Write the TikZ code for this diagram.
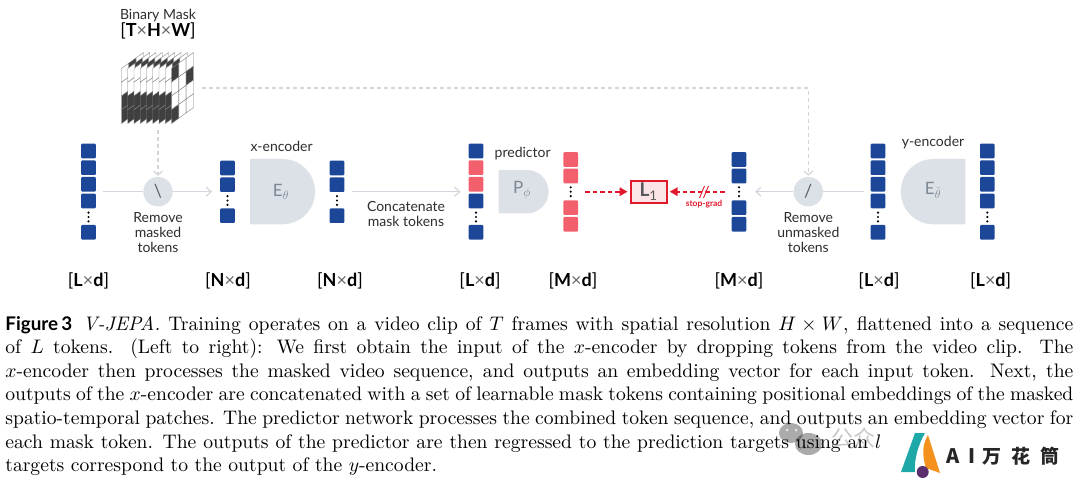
\documentclass[tikz,border=0pt]{standalone}
\usepackage{fontspec}
\setsansfont{Lato}
\newfontfamily\cjkfont{Noto Sans CJK SC}
\usetikzlibrary{arrows.meta}
\definecolor{tokblue}{HTML}{1C4798}
\definecolor{tokpink}{HTML}{F2606E}
\definecolor{lossred}{HTML}{E2192C}
\definecolor{lossfill}{HTML}{FAE4E6}
\definecolor{shapegrey}{HTML}{DCE0E7}
\definecolor{linegrey}{HTML}{D3D7DD}
\definecolor{dashgrey}{HTML}{D2D5D9}
\definecolor{symgrey}{HTML}{7D8794}
\definecolor{cellgrey}{HTML}{3F3F3F}
\definecolor{inkgrey}{HTML}{2E2E2E}
\definecolor{logoteal}{HTML}{1FA8A8}
\definecolor{logoorange}{HTML}{F5921E}
\definecolor{logopurple}{HTML}{5B2E6E}
\tikzset{
  x=1pt,y=-1pt,
  tokbase/.style={rectangle,rounded corners=1pt,minimum width=14.6pt,minimum height=14.6pt,inner sep=0pt},
  tokenblue/.style={tokbase,fill=tokblue},
  tokenpink/.style={tokbase,fill=tokpink},
  colanchor/.style={rectangle,minimum width=14.6pt,minimum height=4pt,inner sep=0pt},
  lab/.style={font=\sffamily\fontsize{14}{15}\selectfont,text=inkgrey,inner sep=0pt,align=center},
  dimlab/.style={font=\sffamily\fontsize{18}{18}\selectfont,text=black,inner sep=0pt},
  opcircle/.style={circle,fill=shapegrey,minimum size=29.4pt,inner sep=0pt,text=symgrey!70!black,font=\sffamily\fontsize{18}{18}\selectfont},
  netshape/.style={fill=shapegrey,draw=none},
  netsym/.style={text=symgrey,inner sep=0pt,font=\sffamily\fontsize{17}{17}\selectfont},
  flow/.style={draw=linegrey,line width=1.2pt},
  flowarrow/.style={flow,-{Straight Barb[length=5pt,width=9pt,line width=1.2pt]}},
  maskdash/.style={draw=dashgrey,line width=1.3pt,dash pattern=on 4pt off 3pt},
  maskarrow/.style={maskdash,-{Straight Barb[length=4pt,width=9pt,line width=1.2pt]}},
  lossarrow/.style={draw=lossred,line width=2pt,dash pattern=on 4.5pt off 3pt,-{Triangle[length=8pt,width=8.5pt]}},
  lossbox/.style={draw=lossred,line width=2.2pt,fill=lossfill,minimum width=36pt,minimum height=22pt,inner sep=0pt,text=black!65,font=\sffamily\fontsize{19}{19}\selectfont},
  dotmark/.style={circle,fill=black,inner sep=0pt,minimum size=2.4pt},
  slicecell/.style={draw=black!50,line width=0.4pt,fill=white},
  slicedark/.style={draw=black!50,line width=0.4pt,fill=cellgrey},
}
\newcommand{\vdotsmark}[2]{%
  \node[dotmark] at (#1,#2-4.4) {};\node[dotmark] at (#1,#2) {};\node[dotmark] at (#1,#2+4.4) {};}
\newcommand{\dimtext}[2]{\textbf{#1}\textcolor{black!60}{×}\textbf{#2}}
\begin{document}
\begin{tikzpicture}
\useasboundingbox (0,0) rectangle (1080,484);
\fill[white] (0,0) rectangle (1080,484);

% ---- binary mask: nine slices, drawn left to right
\foreach \s in {0,...,8}{
  \pgfmathsetmacro{\xo}{121.5+\s*6.25}
  \foreach \c in {0,1,2}{
    \foreach \r in {0,1,2,3}{
      \pgfmathtruncatemacro{\dark}{ifthenelse(\s<8,
         ifthenelse((\c==0 && \r>=2) || (\c==1 && \r==0),1,0),
         ifthenelse((\c==0 && (\r==0 || \r==3)) || (\c==2 && \r==1),1,0))}
      \ifnum\dark=1\def\cs{slicedark}\else\def\cs{slicecell}\fi
      \draw[\cs] (\xo+\c*7.33,68.5-\c*5.33+\r*13.75)
        -- ++(7.33,-5.33) -- ++(0,13.75) -- ++(-7.33,5.33) -- cycle;
    }
  }
}
\node[lab] (masktitle) at (158,15.5) {Binary Mask};
\node[dimlab] (masksize) at (158,31) {[\dimtext{T}{H}\textcolor{black!60}{×}\textbf{W}]};
\coordinate (maskbottom) at (158,130);
\coordinate (maskright) at (202,88);
\coordinate (maskcorner) at (808.3,88);

% ---- network shapes
\path[netshape] (250,159) -- (282.4,159) arc[start angle=-90,end angle=90,radius=32.65] -- (250,224.3) -- cycle;
\node[netsym] (Ex) at (281,192) {E$_{\theta}$};
\node[lab] (xenc) at (281.7,146) {x-encoder};
\path[netshape] (498.7,170) -- (527,170) arc[start angle=-90,end angle=90,radius=21.65] -- (498.7,213.3) -- cycle;
\node[netsym] (Pp) at (522,190) {P$_{\phi}$};
\node[lab] (predl) at (522.7,153.3) {predictor};
\path[netshape] (965.3,159) -- (933.4,159) arc[start angle=-90,end angle=-270,radius=32.65] -- (965.3,224.3) -- cycle;
\node[netsym] (Ey) at (933,190) {E$_{\bar\theta}$};
\node[lab] (yenc) at (933,143) {y-encoder};

% ---- token columns
\node[colanchor] (colA) at (88.5,191.7) {};
\node[tokenblue] (a1) at (88.5,151) {};
\node[tokenblue] (a2) at (88.5,167.7) {};
\node[tokenblue] (a3) at (88.5,184.3) {};
\node[tokenblue] (a4) at (88.5,201) {};
\vdotsmark{88.5}{217}
\node[tokenblue] (a5) at (88.5,232.3) {};

\node[colanchor] (colB) at (227.5,191.7) {};
\node[tokenblue] (b1) at (227.5,168) {};
\node[tokenblue] (b2) at (227.5,184.7) {};
\vdotsmark{227.5}{200.5}
\node[tokenblue] (b3) at (227.5,215.7) {};

\node[colanchor] (colC) at (337,191.7) {};
\node[tokenblue] (c1) at (337,168) {};
\node[tokenblue] (c2) at (337,184.7) {};
\vdotsmark{337}{200.5}
\node[tokenblue] (c3) at (337,215.7) {};

\node[colanchor] (colD) at (476,191.7) {};
\node[tokenblue] (d1) at (476,151) {};
\node[tokenpink] (d2) at (476,167.7) {};
\node[tokenpink] (d3) at (476,184.3) {};
\node[tokenblue] (d4) at (476,201) {};
\vdotsmark{476}{217}
\node[tokenblue] (d5) at (476,232.3) {};

\node[colanchor] (colE) at (570.7,191.7) {};
\node[tokenpink] (e1) at (570.7,159.5) {};
\node[tokenpink] (e2) at (570.7,176) {};
\vdotsmark{570.7}{191.7}
\node[tokenpink] (e3) at (570.7,207.7) {};
\node[tokenpink] (e4) at (570.7,224.3) {};

\node[colanchor] (colF) at (739,191.7) {};
\node[tokenblue] (f1) at (739,159.5) {};
\node[tokenblue] (f2) at (739,176) {};
\vdotsmark{739}{191.7}
\node[tokenblue] (f3) at (739,207.7) {};
\node[tokenblue] (f4) at (739,224.3) {};

\node[colanchor] (colG) at (878,191.7) {};
\node[tokenblue] (g1) at (878,151) {};
\node[tokenblue] (g2) at (878,167.7) {};
\node[tokenblue] (g3) at (878,184.3) {};
\node[tokenblue] (g4) at (878,201) {};
\vdotsmark{878}{217}
\node[tokenblue] (g5) at (878,232.3) {};

\node[colanchor] (colH) at (987.3,191.7) {};
\node[tokenblue] (h1) at (987.3,151) {};
\node[tokenblue] (h2) at (987.3,167.7) {};
\node[tokenblue] (h3) at (987.3,184.3) {};
\node[tokenblue] (h4) at (987.3,201) {};
\vdotsmark{987.3}{217}
\node[tokenblue] (h5) at (987.3,232.3) {};

% ---- operators and loss
\node[opcircle] (opL) at (158,191.7) {\textbackslash};
\node[opcircle] (opR) at (808.3,191.7) {/};
\node[lossbox] (loss) at (648.6,191.7) {\textbf{L}$_{\mathsf{1}}$};

% ---- connectors
\draw[flow,shorten <=7.3pt] (colA) -- (opL);
\draw[flowarrow,shorten >=8pt] (opL) -- (colB);
\draw[flowarrow,shorten <=7.7pt,shorten >=8pt] (colC) -- (colD);
\draw[flow,shorten <=6.7pt] (colG) -- (opR);
\draw[flowarrow,shorten >=8.6pt] (opR) -- (colF);
\draw[maskarrow,shorten >=1pt] (maskbottom) -- (opL);
\draw[maskarrow,shorten >=1pt] (maskright) -- (maskcorner) -- (opR);
\draw[lossarrow,shorten <=7pt,shorten >=2pt] (colE) -- (loss);
\draw[lossarrow,shorten <=6.7pt,shorten >=2pt] (colF) -- (loss);
\draw[draw=lossred,line width=0.9pt] (699.5,198) -- (704.5,186) (703.5,198) -- (708.5,186);

% ---- labels
\node[lab] (rm1) at (158,232.7) {Remove\\[0pt]masked\\[0pt]tokens};
\node[lab] (rm2) at (808.3,232.7) {Remove\\[0pt]unmasked\\[0pt]tokens};
\node[lab] (conc) at (406,214) {Concatenate\\[0pt]mask tokens};
\node[inner sep=0pt,text=lossred,font=\sffamily\bfseries\fontsize{8.5}{9}\selectfont] (sg) at (704,204) {stop-grad};
\node[dimlab] (d-a) at (88.5,280.7) {[\dimtext{L}{d}]};
\node[dimlab] (d-b) at (228,280.7) {[\dimtext{N}{d}]};
\node[dimlab] (d-c) at (340,280.7) {[\dimtext{N}{d}]};
\node[dimlab] (d-d) at (480,280.7) {[\dimtext{L}{d}]};
\node[dimlab] (d-e) at (573,280.7) {[\dimtext{M}{d}]};
\node[dimlab] (d-f) at (739,280.7) {[\dimtext{M}{d}]};
\node[dimlab] (d-g) at (879,280.7) {[\dimtext{L}{d}]};
\node[dimlab] (d-h) at (990.7,280.7) {[\dimtext{L}{d}]};

% ---- caption
\node[anchor=north west,inner sep=0pt,scale=1.96,text width=544.9pt,align=justify,
      font=\fontsize{10}{12}\selectfont] (caption) at (5,316) {%
{\sffamily\bfseries\fontsize{9.6}{12}\selectfont Figure\,3}\hspace{5.5pt}\textit{V-JEPA.} Training operates on a video clip of $T$ frames with spatial resolution $H\times W$, flattened into a sequence\linebreak
of $L$ tokens. (Left to right): We first obtain the input of the $x$-encoder by dropping tokens from the video clip. The\linebreak
$x$-encoder then processes the masked video sequence, and outputs an embedding vector for each input token. Next, the\linebreak
outputs of the $x$-encoder are concatenated with a set of learnable mask tokens containing positional embeddings of the masked\linebreak
spatio-temporal patches. The predictor network processes the combined token sequence, and outputs an embedding vector for\linebreak
each mask token. The outputs of the predictor are then regressed to the prediction targets using an $l$\hspace{98pt}\null\linebreak
targets correspond to the output of the $y$-encoder.\hfill\null};

% ---- watermark
\fill[black,opacity=0.33] (791,433) ellipse[x radius=12,y radius=10];
\fill[black,opacity=0.33] (808.5,444) ellipse[x radius=13.5,y radius=11];
\fill[white,opacity=0.7] (787,430) circle[radius=1.5] (796,430) circle[radius=1.5];
\node[inner sep=0pt,text=black,opacity=0.22,font=\cjkfont\fontsize{22}{22}\selectfont] (wm) at (853,438) {公众};
\fill[white] (880,430) rectangle (1080,484);
\fill[logoteal] (901,472) -- (915,433) -- (925,433) .. controls (918,445) and (914,460) .. (915,472) -- cycle;
\fill[logoorange] (928,435) -- (940,473) -- (926,468) .. controls (922,455) and (922,445) .. (928,435) -- cycle;
\fill[logopurple] (922.7,472) circle[radius=6];
\node[inner sep=0pt,text=black!85,font=\cjkfont\bfseries\fontsize{20}{20}\selectfont,anchor=west] (logoA) at (946,456) {A};
\node[inner sep=0pt,text=black!85,font=\cjkfont\bfseries\fontsize{20}{20}\selectfont,anchor=west] (logoI) at (968,456) {I};
\node[inner sep=0pt,text=black!85,font=\cjkfont\bfseries\fontsize{19}{19}\selectfont,anchor=west] (logoC) at (982,456) {万\hspace{10pt}花\hspace{10pt}筒};
\end{tikzpicture}
\end{document}
